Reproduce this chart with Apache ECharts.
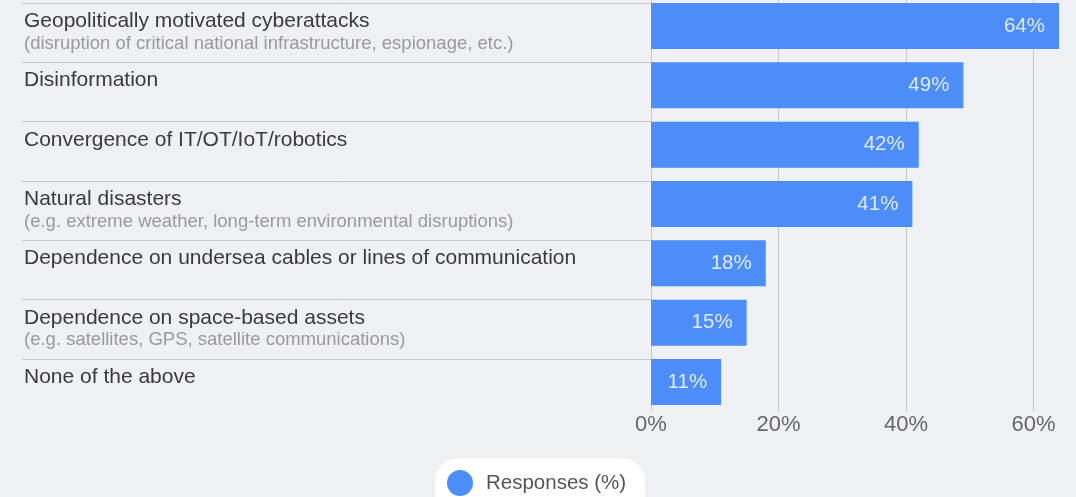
<!DOCTYPE html>
<html>
<head>
<meta charset="utf-8">
<script src="https://cdn.jsdelivr.net/npm/echarts@6/dist/echarts.min.js"></script>
<style>
html,body{margin:0;padding:0;background:#eff0f4;}
#c{width:1076px;height:497px;}
</style>
</head>
<body>
<div id="c"></div>
<script>
const titles = [
  "Geopolitically motivated cyberattacks",
  "Disinformation",
  "Convergence of IT/OT/IoT/robotics",
  "Natural disasters",
  "Dependence on undersea cables or lines of communication",
  "Dependence on space-based assets",
  "None of the above"
];
const subtitles = [
  "(disruption of critical national infrastructure, espionage, etc.)",
  "",
  "",
  "(e.g. extreme weather, long-term environmental disruptions)",
  "",
  "(e.g. satellites, GPS, satellite communications)",
  ""
];
const responses = [64, 49, 42, 41, 18, 15, 11];
const xTicks = [0, 20, 40, 60, 80];
const seriesName = "Responses (%)";

const FONT = "'Liberation Sans', Arial, sans-serif";
const chart = echarts.init(document.getElementById('c'), null, {renderer: 'canvas'});

chart.setOption({
  backgroundColor: '#eff0f4',
  animation: false,
  textStyle: {fontFamily: FONT},
  grid: [
    {left: 651, width: 510, top: -3.67, height: 415.33, containLabel: false, outerBoundsMode: 'none'},
    {left: 22, width: 629, top: 3, height: 415.33, containLabel: false, outerBoundsMode: 'none'}
  ],
  legend: {
    data: [seriesName],
    left: 435,
    top: 458,
    icon: 'circle',
    itemWidth: 26,
    itemHeight: 26,
    backgroundColor: '#ffffff',
    borderRadius: 24,
    padding: [12, 19, 24, 12],
    textStyle: {fontSize: 20.5, color: '#555555', fontFamily: FONT, padding: [0, 0, 0, 8]}
  },
  xAxis: [
    {
      type: 'value', gridIndex: 0, min: xTicks[0], max: xTicks[xTicks.length - 1], interval: 20,
      axisLine: {show: false}, axisTick: {show: false},
      splitLine: {show: true, lineStyle: {color: '#c6c7ca', width: 1}},
      axisLabel: {fontSize: 22, color: '#666666', margin: 2, formatter: v => v + '%', fontFamily: FONT}
    },
    {
      type: 'value', gridIndex: 1, show: false, min: 0, max: 1
    }
  ],
  yAxis: [
    {
      type: 'category', gridIndex: 0, data: titles, inverse: true,
      axisLine: {show: false}, axisTick: {show: false}, axisLabel: {show: false},
      splitLine: {show: false}
    },
    {
      type: 'category', gridIndex: 1, data: titles, inverse: true,
      axisLine: {show: false}, axisTick: {show: false},
      splitLine: {show: true, lineStyle: {color: ['#c6c7ca','#c6c7ca','#c6c7ca','#c6c7ca','#c6c7ca','#c6c7ca','#c6c7ca','rgba(0,0,0,0)'], width: 1}},
      axisLabel: {
        inside: true, margin: 2, align: 'left', verticalAlign: 'middle',
        formatter: (v, i) => '{t|' + v + '}\n{s|' + (subtitles[i] || ' ') + '}',
        rich: {
          t: {fontSize: 21, lineHeight: 22, color: '#3a3a3a', fontFamily: FONT},
          s: {fontSize: 18.5, lineHeight: 23, color: '#9a9a9a', fontFamily: FONT}
        }
      }
    }
  ],
  series: [
    {
      name: seriesName,
      type: 'bar',
      xAxisIndex: 0, yAxisIndex: 0,
      data: responses,
      barWidth: 46,
      itemStyle: {color: '#4d8df7'},
      label: {
        show: true, position: 'insideRight', distance: 14,
        formatter: p => p.value + '%',
        fontSize: 20.5, color: 'rgba(255,255,255,0.82)', fontFamily: FONT
      }
    }
  ]
});
</script>
</body>
</html>
